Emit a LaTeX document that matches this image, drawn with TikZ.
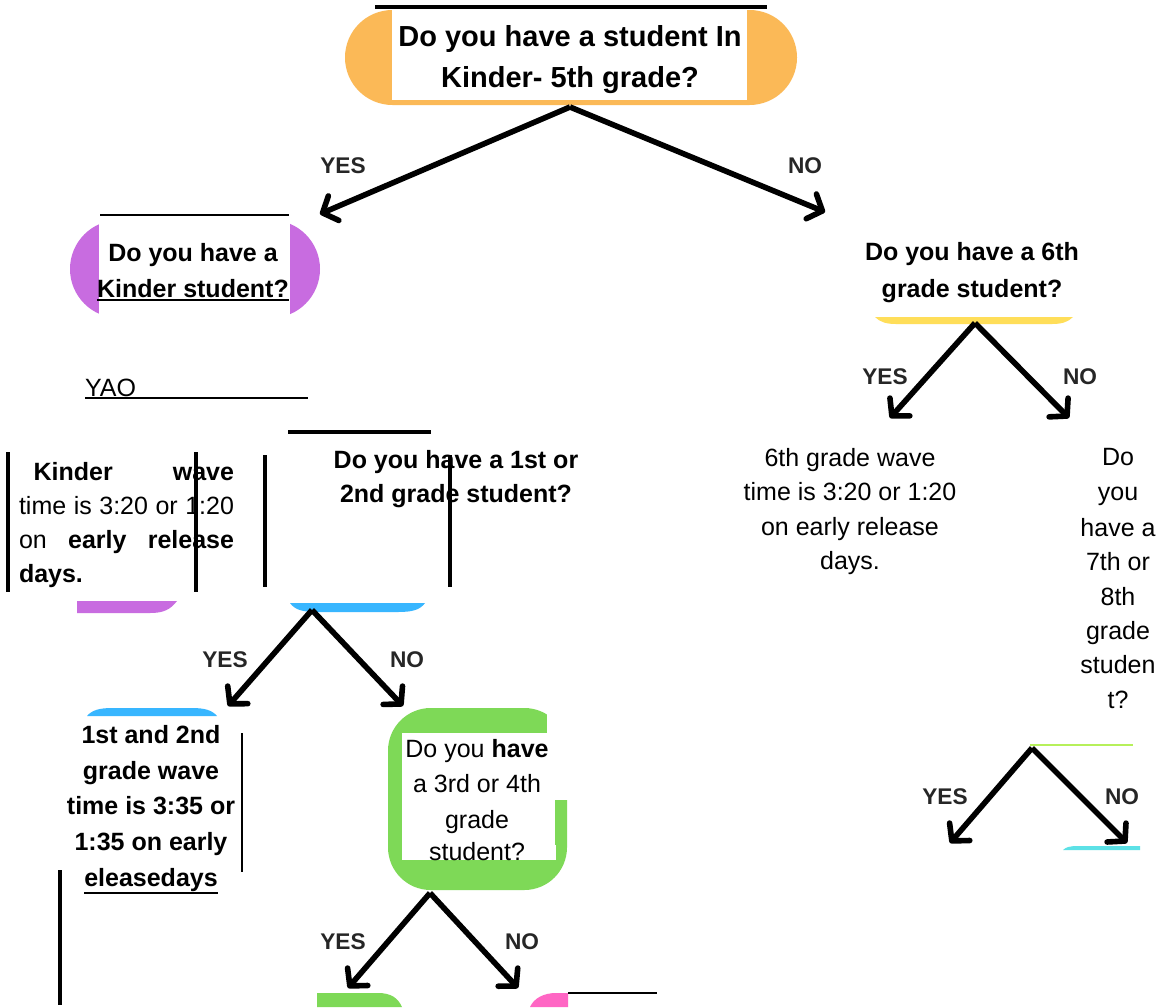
\documentclass[tikz,border=0pt]{standalone}
\usepackage{fontspec}
\setmainfont{Liberation Sans}
\usetikzlibrary{arrows.meta}
\definecolor{orng}{HTML}{FBB957}
\definecolor{purp}{HTML}{C86CE0}
\definecolor{bluec}{HTML}{38B6FF}
\definecolor{greenc}{HTML}{7ED957}
\definecolor{yell}{HTML}{FFDE59}
\definecolor{lgreen}{HTML}{B6F05A}
\definecolor{cyanc}{HTML}{5CE1E6}
\definecolor{magc}{HTML}{FF66C4}
\begin{document}
\begin{tikzpicture}[x=0.75pt,y=-0.75pt,
  txt/.style={inner sep=0pt,outer sep=0pt,font=\fontsize{18.75}{22}\selectfont},
  btxt/.style={inner sep=0pt,outer sep=0pt,font=\fontsize{18.75}{22}\selectfont\bfseries},
  ttxt/.style={inner sep=0pt,outer sep=0pt,font=\fontsize{21.75}{26}\selectfont\bfseries},
  lbl/.style={inner sep=0pt,outer sep=0pt,font=\fontsize{17}{20}\selectfont\bfseries,text=black!85},
  arr/.style={line width=4.2pt,-{Straight Barb[length=9pt,width=20pt,round]}},
  rule/.style={line width=3pt},
  thinrule/.style={line width=1.7pt}]
\fill[white] (0,0) rectangle (1166,1007);
\useasboundingbox (0,0) rectangle (1166,1007);

% ---- top question
\fill[orng,rounded corners=35.6pt] (345,10) rectangle (797,105);
\fill[white] (392,9) rectangle (747,100);
\draw[line width=2.3pt] (375,7) -- (767,7);
\node[ttxt,anchor=base] (q1a) at (570,46) {Do you have a student In};
\node[ttxt,anchor=base] (q1b) at (570,87) {Kinder- 5th grade?};
\coordinate (q1s) at (570,107);
\coordinate (t1y) at (320,214);
\coordinate (t1n) at (825,212);
\draw[arr] (q1s) -- (t1y);
\draw[arr] (q1s) -- (t1n);
\node[lbl] (l1y) at (343,166) {YES};
\node[lbl] (l1n) at (805,166) {NO};

% ---- kinder question
\fill[purp,rounded corners=36.75pt] (70,220) rectangle (320,318);
\fill[white] (99,212) rectangle (290,330);
\draw[thinrule] (100,215) -- (289,215);
\node[btxt,anchor=base] (q2a) at (193,261) {Do you have a};
\node[btxt,anchor=base] (q2b) at (193,297) {Kinder student?};
\draw[line width=1.4pt] ([yshift=-2pt]q2b.base west) -- ([yshift=-2pt]q2b.base east);

% ---- YAO
\node[txt,anchor=base west] (yao) at (85,396) {YAO};
\coordinate (yaoe) at (308,398);
\draw[line width=1.8pt] ([yshift=-1.5pt]yao.base west) -- (yaoe);

\draw[line width=3.6pt] (288,432) -- (431,432);

% ---- kinder answer
\node[txt,anchor=base west] (k1) at (19,480) {\makebox[161.25pt][l]{\hspace{11pt}\textbf{Kinder}\hfill\textbf{wave}}};
\node[txt,anchor=base west] (k2) at (19,514) {\makebox[161.25pt][s]{time is 3:20 or 1:20}};
\node[txt,anchor=base west] (k3) at (19,548) {\makebox[161.25pt][l]{on\hfill\textbf{early}\hfill\textbf{release}}};
\node[txt,anchor=base west] (k4) at (19,582) {\textbf{days.}};

% ---- 1st/2nd question
\node[btxt,anchor=base] (q3a) at (456,468) {Do you have a 1st or};
\node[btxt,anchor=base] (q3b) at (456,502) {2nd grade student?};

\draw[rule] (8,452) -- (8,592);
\draw[rule] (196,452) -- (196,592);
\draw[rule] (265,455) -- (265,587);
\draw[rule] (450,455) -- (450,587);

\fill[purp] (77,601) -- (177,601) .. controls (170,610) and (163,613) .. (150,613) -- (77,613) -- cycle;
\fill[bluec] (290,603) -- (425,603) .. controls (420,610) and (412,612) .. (398,612) -- (317,612) .. controls (303,612) and (295,610) .. (290,603) -- cycle;

\coordinate (q3s) at (312,610);
\coordinate (t3y) at (228,706);
\coordinate (t3n) at (403,706);
\draw[arr] (q3s) -- (t3y);
\draw[arr] (q3s) -- (t3n);
\node[lbl] (l3y) at (225,660) {YES};
\node[lbl] (l3n) at (407,660) {NO};

% ---- 1st/2nd answer
\fill[bluec] (87,716) .. controls (92,710) and (100,708) .. (112,708) -- (192,708) .. controls (204,708) and (212,710) .. (217,716) -- cycle;
\node[btxt,anchor=base] (a1) at (151,743) {1st and 2nd};
\node[btxt,anchor=base] (a2) at (151,779) {grade wave};
\node[btxt,anchor=base] (a3) at (151,814) {time is 3:35 or};
\node[btxt,anchor=base] (a4) at (151,850) {1:35 on early};
\node[btxt,anchor=base] (a5) at (151,886) {eleasedays};
\draw[line width=1.6pt] ([yshift=-5pt]a5.base west) -- ([yshift=-5pt]a5.base east);
\draw[thinrule] (242,733) -- (242,872);
\draw[rule] (60,870) -- (60,1005);

% ---- 3rd/4th question
\fill[greenc,rounded corners=32pt] (388,708) rectangle (567,890);
\fill[white] (547,700) rectangle (570,800);
\fill[white] (402,733) rectangle (555,860);
\fill[white] (530,845) rectangle (556,860);
\node[txt,anchor=base] (g1) at (477,757) {Do you \textbf{have}};
\node[txt,anchor=base] (g2) at (477,792) {a 3rd or 4th};
\node[txt,anchor=base] (g3) at (477,828) {grade};
\node[txt,anchor=base] (g4) at (477,860) {student?};

\coordinate (q4s) at (430,893);
\coordinate (t4y) at (348,988);
\coordinate (t4n) at (518,988);
\draw[arr] (q4s) -- (t4y);
\draw[arr] (q4s) -- (t4n);
\node[lbl] (l4y) at (343,942) {YES};
\node[lbl] (l4n) at (522,942) {NO};

\fill[greenc] (317,1007) -- (317,993) -- (378,993) .. controls (391,993) and (398,998) .. (402,1007) -- cycle;
\fill[magc] (530,1007) .. controls (534,998) and (544,993) .. (556,993) -- (568,993) -- (568,1007) -- cycle;
\draw[line width=2pt] (568,993) -- (657,993);

% ---- 6th question
\node[btxt,anchor=base] (s1) at (972,260) {Do you have a 6th};
\node[btxt,anchor=base] (s2) at (972,297) {grade student?};
\fill[yell] (875,317) -- (1073,317) .. controls (1068,322) and (1062,324) .. (1052,324) -- (896,324) .. controls (886,324) and (880,322) .. (875,317) -- cycle;
\coordinate (q5s) at (975,323);
\coordinate (t5y) at (890,418);
\coordinate (t5n) at (1069,418);
\draw[arr] (q5s) -- (t5y);
\draw[arr] (q5s) -- (t5n);
\node[lbl] (l5y) at (885,377) {YES};
\node[lbl] (l5n) at (1080,377) {NO};

\node[txt,anchor=base] (b1) at (850,466) {6th grade wave};
\node[txt,anchor=base] (b2) at (850,500) {time is 3:20 or 1:20};
\node[txt,anchor=base] (b3) at (850,535) {on early release};
\node[txt,anchor=base] (b4) at (850,569) {days.};

\node[txt,anchor=base] (c1) at (1118,465) {Do};
\node[txt,anchor=base] (c2) at (1118,500) {you};
\node[txt,anchor=base] (c3) at (1118,536) {have a};
\node[txt,anchor=base] (c4) at (1118,570) {7th or};
\node[txt,anchor=base] (c5) at (1118,605) {8th};
\node[txt,anchor=base] (c6) at (1118,639) {grade};
\node[txt,anchor=base] (c7) at (1118,673) {studen};
\node[txt,anchor=base] (c8) at (1118,708) {t?};

% ---- 7th/8th branches
\draw[lgreen,line width=2.2pt] (1030,745) -- (1133,745);
\coordinate (q6s) at (1032,748);
\coordinate (t6y) at (950,843);
\coordinate (t6n) at (1127,843);
\draw[arr] (q6s) -- (t6y);
\draw[arr] (q6s) -- (t6n);
\node[lbl] (l6y) at (945,797) {YES};
\node[lbl] (l6n) at (1122,797) {NO};
\fill[cyanc] (1063,850) .. controls (1066,847) and (1070,846) .. (1078,846) -- (1140,846) -- (1140,850) -- cycle;
\end{tikzpicture}
\end{document}
